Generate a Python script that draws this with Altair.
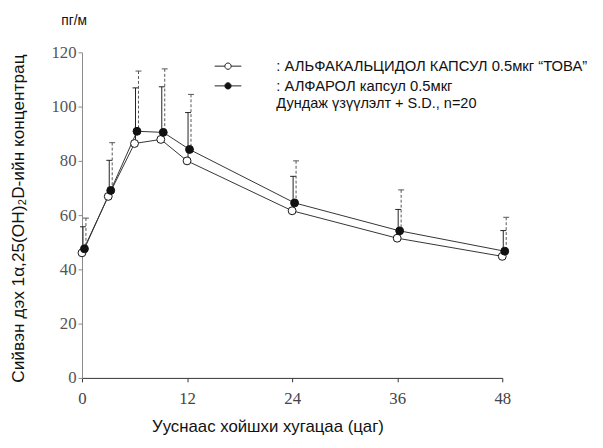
import altair as alt
import pandas as pd

# ---- data ----
times = [0, 3, 6, 9, 12, 24, 36, 48]
tova_mean = [46.1, 66.9, 86.4, 87.9, 80.0, 61.6, 51.5, 44.8]
tova_sd = [9.6, 13.3, 20.5, 19.4, 17.8, 12.7, 10.6, 9.5]
alfarol_mean = [47.6, 69.1, 90.9, 90.5, 84.2, 64.5, 54.2, 46.7]
alfarol_sd = [11.3, 17.6, 22.2, 23.4, 20.3, 15.5, 15.1, 12.5]
x_ticks = [0, 12, 24, 36, 48]
y_ticks = [0, 20, 40, 60, 80, 100, 120]
series_names = ["АЛЬФАКАЛЬЦИДОЛ КАПСУЛ 0.5мкг “ТОВА”", "АЛФАРОЛ капсул 0.5мкг"]
note_text = "Дундаж үзүүлэлт + S.D., n=20"
unit_text = "пг/м"
x_title = "Ууснаас хойшхи хугацаа (цаг)"
y_title = "Сийвэн дэх 1α,25(OH)₂D-ийн концентрац"

rows = []
for name, means, sds in [(series_names[0], tova_mean, tova_sd),
                         (series_names[1], alfarol_mean, alfarol_sd)]:
    for t, m, s in zip(times, means, sds):
        rows.append({"t": t, "mean": m, "upper": round(m + s, 2), "series": name})
df = pd.DataFrame(rows)

SERIF = "Liberation Serif"
SANS = "Liberation Sans"

x_enc = alt.X("t:Q",
              scale=alt.Scale(domain=[0, 48], nice=False, zero=False),
              axis=alt.Axis(values=x_ticks, title=x_title, grid=False,
                            domainColor="#333", tickColor="#333", tickSize=4,
                            labelFont=SERIF, labelFontSize=17, labelColor="#444",
                            labelPadding=9, labelFlush=False,
                            titleFont=SANS, titleFontSize=17, titleFontWeight="normal",
                            titleColor="#111", titleX=188, titleY=49,
                            titleAlign="center", titleBaseline="middle"))
y_enc = alt.Y("mean:Q",
              scale=alt.Scale(domain=[0, 120], nice=False),
              axis=alt.Axis(values=y_ticks, title=y_title, grid=False,
                            domainColor="#888", tickColor="#888", tickSize=4,
                            labelFont=SERIF, labelFontSize=17, labelColor="#555",
                            labelPadding=2,
                            titleFont=SANS, titleFontSize=17.5, titleFontWeight="normal",
                            titleColor="#111", titleX=-64, titleY=168,
                            titleAlign="center", titleBaseline="middle"))

is_open = alt.datum.series == series_names[0]
is_fill = alt.datum.series == series_names[1]

base = alt.Chart(df)

line_open = base.transform_filter(is_open).mark_line(
    color="#333", strokeWidth=1).encode(x=x_enc, y=y_enc)
line_fill = base.transform_filter(is_fill).mark_line(
    color="#333", strokeWidth=1, xOffset=2.5).encode(x=x_enc, y=y_enc)

err_open = base.transform_filter(is_open).mark_rule(
    color="#222", strokeWidth=1, xOffset=1).encode(
    x=x_enc, y=alt.Y("upper:Q"), y2="mean:Q")
cap_open = base.transform_filter(is_open).mark_tick(
    orient="horizontal", size=6, thickness=1, color="#222", opacity=1, xOffset=1).encode(
    x=x_enc, y=alt.Y("upper:Q"))
err_fill = base.transform_filter(is_fill).mark_rule(
    color="#555", strokeWidth=1, strokeDash=[3, 2], xOffset=4).encode(
    x=x_enc, y=alt.Y("upper:Q"), y2="mean:Q")
cap_fill = base.transform_filter(is_fill).mark_tick(
    orient="horizontal", size=6, thickness=1, color="#555", opacity=1, xOffset=4).encode(
    x=x_enc, y=alt.Y("upper:Q"))

legend_path = ("M-2.7,0H-0.64 M0.64,0H2.7 "
               "M-0.64,0A0.64,0.64,0,1,1,0.64,0A0.64,0.64,0,1,1,-0.64,0Z")
fill_enc = alt.Fill("series:N",
                    scale=alt.Scale(domain=series_names, range=["white", "#111"]),
                    legend=alt.Legend(orient="none", legendX=140.5, legendY=6.5,
                                      title=None, symbolType=legend_path,
                                      symbolSize=100, symbolStrokeColor="#222",
                                      symbolStrokeWidth=1, labelOffset=41.5,
                                      labelFont=SANS, labelFontSize=15,
                                      labelColor="#111", rowPadding=4,
                                      labelExpr="': ' + datum.label",
                                      labelLimit=400))

pts_open = base.transform_filter(is_open).mark_point(
    shape="circle", filled=True, size=64, stroke="#111", strokeWidth=1,
    opacity=1).encode(x=x_enc, y=y_enc, fill=fill_enc)
pts_fill = base.transform_filter(is_fill).mark_point(
    shape="circle", filled=True, size=64, stroke="#111", strokeWidth=1,
    opacity=1, xOffset=2.5).encode(x=x_enc, y=y_enc, fill=fill_enc)

note = alt.Chart(pd.DataFrame({"txt": [note_text]})).mark_text(
    font=SANS, fontSize=14.7, color="#111", align="left", baseline="middle").encode(
    text="txt:N", x=alt.value(197), y=alt.value(52))
unit = alt.Chart(pd.DataFrame({"txt": [unit_text]})).mark_text(
    font=SANS, fontSize=14, color="#111", align="left", baseline="middle").encode(
    text="txt:N", x=alt.value(-21), y=alt.value(-32))

chart = alt.layer(line_open, line_fill, err_open, cap_open, err_fill, cap_fill,
                  pts_open, pts_fill, note, unit).properties(
    width=426, height=330,
    autosize=alt.AutoSizeParams(type="none"),
    padding={"left": 75, "top": 42, "right": 94, "bottom": 60},
    background="white",
).configure_view(stroke=None)

chart.save("out.html", embed_options={"renderer": "svg", "actions": False})
